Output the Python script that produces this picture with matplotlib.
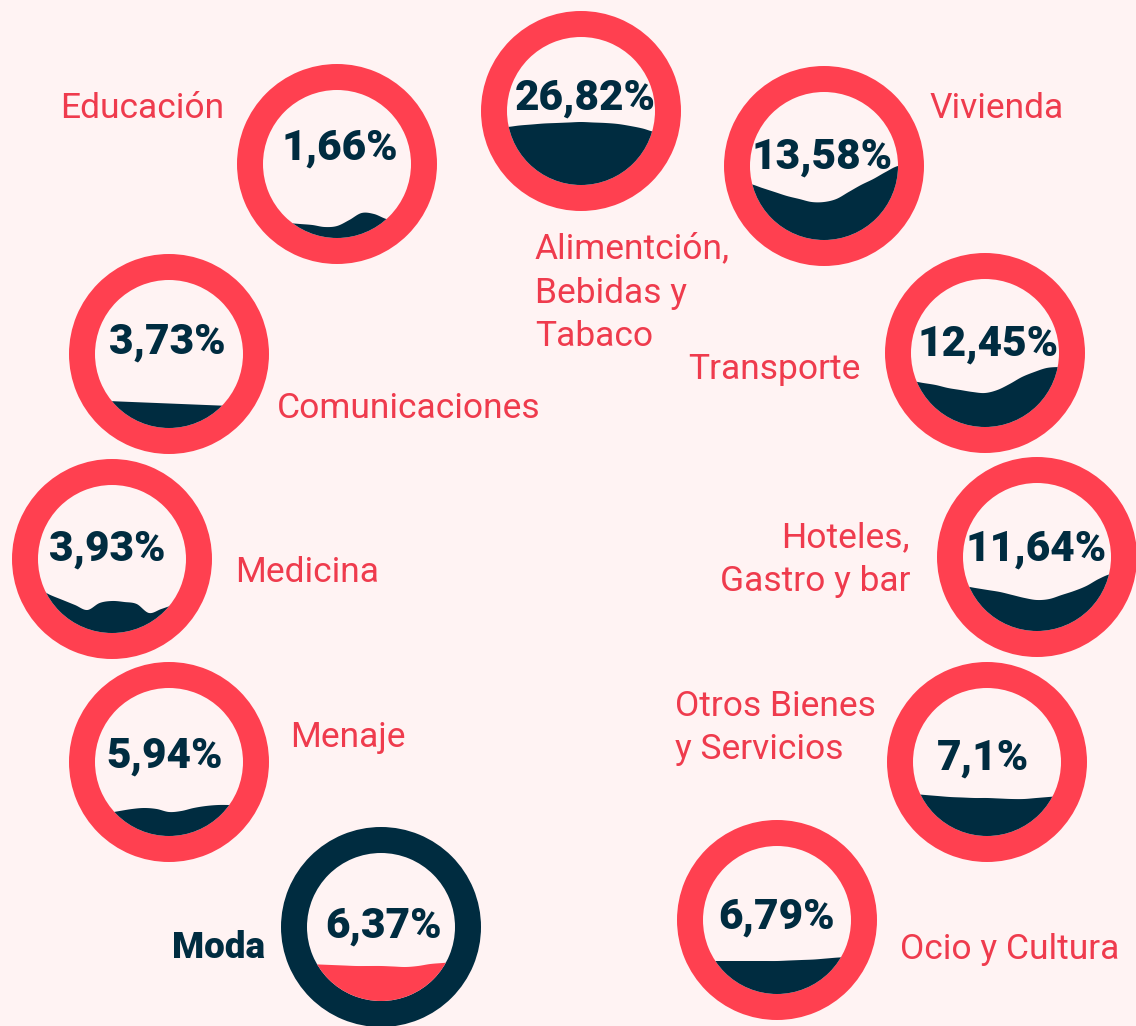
import numpy as np
import matplotlib.pyplot as plt
from matplotlib.patches import Circle, Wedge, Polygon

# data
categories = ["Educación", "Alimentción,\nBebidas y\nTabaco", "Vivienda",
              "Comunicaciones", "Transporte", "Medicina",
              "Hoteles,\nGastro y bar", "Menaje", "Otros Bienes\ny Servicios",
              "Moda", "Ocio y Cultura"]
shares = [1.66, 26.82, 13.58, 3.73, 12.45, 3.93, 11.64, 5.94, 7.1, 6.37, 6.79]
highlight = "Moda"

# liquid surface read off each circle: depth below centre (px) at 13 points
# evenly spread across the inner diameter, left to right
surface_edu = [57, 58, 59, 60, 61, 63, 62, 56, 49, 50, 55, 57, 58]
surface_ali = [16, 14.5, 13.5, 12.5, 12, 11.5, 11, 11.5, 12, 13, 15, 17.5, 21]
surface_viv = [18, 22, 26, 30, 33, 36, 36, 33, 26, 19, 13, 6, 0]
surface_com = [47, 47, 47.5, 48, 48.5, 49, 49.5, 50, 50.5, 51, 51.5, 52, 52.5]
surface_tra = [28, 30, 32, 35, 37, 39, 40, 37, 31, 24, 19, 15, 14]
surface_med = [30, 36, 41, 46, 51, 44, 42, 43, 45, 54, 50, 46, 44]
surface_hot = [29, 31, 33, 35, 38, 41, 43, 42, 38, 34, 29, 22, 17]
surface_men = [52, 51, 49, 47, 46, 47, 50, 49, 46, 44, 43, 43, 43]
surface_otr = [32, 33, 34, 35, 35.5, 36, 36, 36.5, 37, 37, 36, 35, 34]
surface_mod = [37, 37.5, 38, 38.5, 39, 39, 39, 39.5, 40, 39, 37, 36, 35]
surface_oci = [41, 41, 41, 41, 41, 41, 41, 40.5, 40, 39.5, 38.5, 37.5, 37]
surfaces = [surface_edu, surface_ali, surface_viv, surface_com, surface_tra,
            surface_med, surface_hot, surface_men, surface_otr, surface_mod,
            surface_oci]

# layout (pixel coordinates, y downwards)
centers = [(337, 164), (581, 111), (824, 166), (169, 354), (985, 353),
           (112, 559), (1037, 557), (169, 762), (987, 762), (381, 927),
           (777, 920)]
num_dy = [-16, -13, -9, -12, -9, -10, -8, -6, -4, -1, -3]
num_dx = [3, 4, -2, -2, 3, -5, -1, -4, -4, 3, 0]
label_pos = [(60, 109, "left"), (535, 293, "left"), (930, 109, "left"),
             (277, 409, "left"), (688, 370, "left"), (235, 573, "left"),
             (910, 560, "right"), (290, 737, "left"), (675, 728, "left"),
             (172, 948, "left"), (900, 949, "left")]

RED = "#FF4050"
NAVY = "#002C40"
BG = "#FFF3F3"
LABEL_RED = "#EF3B4D"
R_OUT = 100
R_IN = 74


def catmull_rom(gx, gy, xs):
    gy = np.concatenate([[gy[0]], gy, [gy[-1]]])
    out = np.empty_like(xs)
    step = gx[1] - gx[0]
    for k, x in enumerate(xs):
        i = int(np.clip((x - gx[0]) // step, 0, len(gx) - 2))
        t = (x - gx[i]) / step
        p0, p1, p2, p3 = gy[i], gy[i + 1], gy[i + 2], gy[i + 3]
        out[k] = 0.5 * (2 * p1 + (-p0 + p2) * t
                        + (2 * p0 - 5 * p1 + 4 * p2 - p3) * t ** 2
                        + (-p0 + 3 * p1 - 3 * p2 + p3) * t ** 3)
    return out


fig = plt.figure(figsize=(11.36, 10.26), dpi=100, facecolor=BG)
ax = fig.add_axes([0, 0, 1, 1])
ax.set_xlim(0, 1136)
ax.set_ylim(1026, 0)
ax.axis("off")

for i, cat in enumerate(categories):
    cx, cy = centers[i]
    is_hl = cat == highlight
    ring_c = NAVY if is_hl else RED
    fill_c = RED if is_hl else NAVY

    ax.add_patch(Wedge((cx, cy), R_OUT, 0, 360, width=R_OUT - R_IN,
                       facecolor=ring_c, edgecolor="none"))

    gx = cx + np.linspace(-R_IN, R_IN, 13)
    xs = np.linspace(cx - R_IN - 2, cx + R_IN + 2, 300)
    ys = cy + catmull_rom(gx, np.array(surfaces[i], float),
                          np.clip(xs, gx[0], gx[-1]))
    verts = np.column_stack([np.r_[xs, xs[-1], xs[0]],
                             np.r_[ys, cy + R_IN + 4, cy + R_IN + 4]])
    liquid = Polygon(verts, closed=True, facecolor=fill_c, edgecolor="none")
    ax.add_patch(liquid)
    liquid.set_clip_path(Circle((cx, cy), R_IN, transform=ax.transData))

    txt = f"{shares[i]:g}".replace(".", ",") + "%"
    ax.text(cx + num_dx[i], cy + num_dy[i], txt, ha="center", va="center",
            fontsize=30.5, fontweight="heavy", color=NAVY, family="Roboto")

    lx, ly, ha = label_pos[i]
    if is_hl:
        ax.text(lx, ly, cat, ha=ha, va="center", fontsize=26.5,
                fontweight="heavy", color=NAVY, family="Roboto")
    else:
        ax.text(lx, ly, cat, ha=ha, va="center", fontsize=25.5,
                fontweight="normal", color=LABEL_RED, family="Roboto",
                linespacing=1.42)

fig.savefig("out.png", dpi=100, facecolor=BG)
